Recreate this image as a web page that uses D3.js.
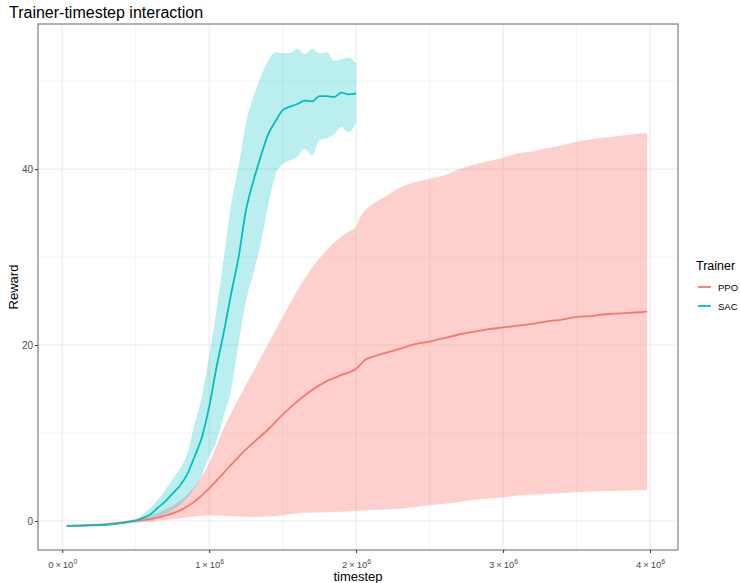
<!DOCTYPE html>
<html>
<head>
<meta charset="utf-8">
<script src="https://cdn.jsdelivr.net/npm/d3@7"></script>
<style>
  body { margin: 0; background: #fff; }
  text { font-family: "Liberation Sans", Arial, Helvetica, sans-serif; }
</style>
</head>
<body>
<svg id="chart" width="740" height="583"></svg>
<script>
// ---------------- DATA ----------------
const trainers = ["PPO", "SAC"];
const trainerColors = ["#F8766D", "#00BFC4"];

const ppoStep = [0.03,0.1,0.2,0.3,0.4,0.5,0.6,0.7,0.8,0.9,1.0,1.1,1.2,1.3,1.4,1.5,1.6,1.7,1.8,1.9,1.95,2.0,2.03,2.06,2.1,2.2,2.3,2.4,2.5,2.6,2.7,2.8,2.9,3.0,3.1,3.2,3.3,3.4,3.5,3.6,3.7,3.8,3.9,3.98].map(d => d * 1e6);
const ppoMean = [-0.55,-0.5,-0.45,-0.35,-0.2,0.0,0.2,0.6,1.2,2.2,3.7,5.5,7.3,8.9,10.4,12.1,13.6,14.9,15.9,16.6,16.9,17.3,17.8,18.3,18.6,19.1,19.6,20.1,20.4,20.8,21.2,21.5,21.8,22.0,22.2,22.4,22.7,22.9,23.2,23.3,23.5,23.6,23.7,23.8];
const ppoLow  = [-0.6,-0.55,-0.5,-0.45,-0.35,-0.2,-0.05,0.1,0.3,0.5,0.65,0.6,0.5,0.45,0.5,0.65,0.85,0.95,1.0,1.05,1.1,1.15,1.2,1.2,1.25,1.3,1.4,1.6,1.8,1.95,2.15,2.4,2.55,2.7,2.9,3.0,3.1,3.15,3.3,3.35,3.4,3.45,3.5,3.55];
const ppoHigh = [-0.5,-0.45,-0.4,-0.25,-0.05,0.25,0.6,1.3,2.3,3.9,6.6,10.6,13.9,17.0,20.1,23.2,26.2,28.8,30.8,32.3,32.9,33.5,34.6,35.3,35.9,36.9,37.9,38.5,38.9,39.3,40.0,40.5,40.9,41.3,41.8,42.0,42.4,42.7,43.1,43.4,43.6,43.8,44.0,44.1];

const sacStep = [0.03,0.1,0.2,0.3,0.35,0.4,0.45,0.5,0.55,0.6,0.65,0.7,0.75,0.8,0.85,0.9,0.95,1.0,1.05,1.1,1.15,1.2,1.25,1.3,1.35,1.4,1.45,1.5,1.55,1.6,1.65,1.7,1.75,1.8,1.85,1.9,1.95,2.0].map(d => d * 1e6);
const sacMean = [-0.55,-0.55,-0.5,-0.45,-0.35,-0.25,-0.1,0.05,0.35,0.75,1.5,2.2,3.1,4.0,5.3,7.3,9.5,13.0,17.5,21.5,25.9,30.0,35.3,38.6,41.4,43.9,45.4,46.7,47.1,47.4,47.8,47.7,48.3,48.3,48.2,48.7,48.5,48.6];
const sacLow  = [-0.6,-0.6,-0.55,-0.5,-0.4,-0.3,-0.15,-0.1,0.0,0.2,0.45,0.8,1.2,1.8,2.6,3.7,5.2,7.3,9.0,12.0,15.0,20.2,25.0,28.1,31.5,35.8,39.3,40.6,41.0,41.4,42.3,41.6,43.3,43.5,44.0,44.8,44.2,45.4];
const sacHigh = [-0.5,-0.5,-0.45,-0.4,-0.3,-0.15,0.0,0.15,0.75,1.5,2.4,3.5,4.7,5.9,7.6,11.0,14.1,18.8,24.0,30.0,36.0,40.3,45.2,48.2,50.5,52.3,53.3,53.2,53.2,53.7,53.1,53.7,53.2,53.3,52.3,52.5,52.7,52.0];

const xTickValues = [0, 1e6, 2e6, 3e6, 4e6];
const xTickMantissa = ["0", "1", "2", "3", "4"];
const xTickExponent = ["0", "6", "6", "6", "6"];
const xMinorValues = [0.5e6, 1.5e6, 2.5e6, 3.5e6];
const yTickValues = [0, 20, 40];
const yMinorValues = [10, 30, 50];

// ---------------- LAYOUT ----------------
const svg = d3.select("#chart");
const P = { left: 38, right: 678, top: 24, bottom: 550 };

const x = d3.scaleLinear().domain([-0.165e6, 4.19e6]).range([P.left, P.right]);
const y = d3.scaleLinear().domain([-3.3, 56.5]).range([P.bottom, P.top]);

const gridColor = "#EBEBEB";
svg.append("rect").attr("x", P.left).attr("y", P.top)
  .attr("width", P.right - P.left).attr("height", P.bottom - P.top).attr("fill", "#fff");

const grid = svg.append("g");
xMinorValues.forEach(v => grid.append("line").attr("x1", x(v)).attr("x2", x(v))
  .attr("y1", P.top).attr("y2", P.bottom).attr("stroke", gridColor).attr("stroke-width", 0.6));
yMinorValues.forEach(v => grid.append("line").attr("y1", y(v)).attr("y2", y(v))
  .attr("x1", P.left).attr("x2", P.right).attr("stroke", gridColor).attr("stroke-width", 0.6));
xTickValues.forEach(v => grid.append("line").attr("x1", x(v)).attr("x2", x(v))
  .attr("y1", P.top).attr("y2", P.bottom).attr("stroke", gridColor).attr("stroke-width", 1.1));
yTickValues.forEach(v => grid.append("line").attr("y1", y(v)).attr("y2", y(v))
  .attr("x1", P.left).attr("x2", P.right).attr("stroke", gridColor).attr("stroke-width", 1.1));

svg.append("clipPath").attr("id", "clip").append("rect")
  .attr("x", P.left).attr("y", P.top).attr("width", P.right - P.left).attr("height", P.bottom - P.top);

const series = [
  { name: "PPO", color: trainerColors[0], step: ppoStep, mean: ppoMean, low: ppoLow, high: ppoHigh, alpha: 0.34 },
  { name: "SAC", color: trainerColors[1], step: sacStep, mean: sacMean, low: sacLow, high: sacHigh, alpha: 0.27 }
];

const plot = svg.append("g").attr("clip-path", "url(#clip)");
series.forEach(s => {
  const pts = s.step.map((t, i) => ({ t, m: s.mean[i], lo: s.low[i], hi: s.high[i] }));
  const area = d3.area().curve(d3.curveMonotoneX).x(d => x(d.t)).y0(d => y(d.lo)).y1(d => y(d.hi));
  plot.append("path").datum(pts).attr("d", area)
    .attr("fill", s.color).attr("fill-opacity", s.alpha);
});
series.forEach(s => {
  const pts = s.step.map((t, i) => ({ t, m: s.mean[i] }));
  const line = d3.line().curve(d3.curveMonotoneX).x(d => x(d.t)).y(d => y(d.m));
  plot.append("path").datum(pts).attr("d", line)
    .attr("fill", "none").attr("stroke", s.color).attr("stroke-width", 1.8)
    .attr("stroke-linejoin", "round");
});

svg.append("rect").attr("x", P.left).attr("y", P.top)
  .attr("width", P.right - P.left).attr("height", P.bottom - P.top)
  .attr("fill", "none").attr("stroke", "#666").attr("stroke-width", 1);

// axes
const xAxis = d3.axisBottom(x).tickValues(xTickValues).tickSize(3).tickFormat("");
const gx = svg.append("g").attr("transform", `translate(0,${P.bottom})`).call(xAxis);
gx.select(".domain").remove();
gx.selectAll(".tick line").attr("stroke", "#333");
gx.selectAll(".tick").each(function(d, i) {
  const t = d3.select(this).append("text")
    .attr("y", 18).attr("text-anchor", "middle").attr("fill", "#4D4D4D").attr("font-size", 9.5);
  t.append("tspan").text(xTickMantissa[i] + "\u2009\u00D7\u200910");
  t.append("tspan").attr("dy", -4.5).attr("font-size", 7).text(xTickExponent[i]);
});

const yAxis = d3.axisLeft(y).tickValues(yTickValues).tickSize(3).tickPadding(2);
const gy = svg.append("g").attr("transform", `translate(${P.left},0)`).call(yAxis);
gy.select(".domain").remove();
gy.selectAll(".tick line").attr("stroke", "#333");
gy.selectAll(".tick text").attr("fill", "#4D4D4D").attr("font-size", 10)
  .attr("font-family", "Liberation Sans, Arial, sans-serif");

// titles
svg.append("text").attr("x", 9).attr("y", 18).attr("font-size", 16).attr("fill", "#000")
  .text("Trainer-timestep interaction");
svg.append("text").attr("x", (P.left + P.right) / 2).attr("y", 581).attr("text-anchor", "middle")
  .attr("font-size", 13).attr("fill", "#000").text("timestep");
svg.append("text").attr("transform", `translate(18,${(P.top + P.bottom) / 2}) rotate(-90)`)
  .attr("text-anchor", "middle").attr("font-size", 13).attr("fill", "#000").text("Reward");

// legend
const lg = svg.append("g").attr("transform", "translate(695,0)");
lg.append("text").attr("x", 1).attr("y", 270).attr("font-size", 12.5).attr("fill", "#000").text("Trainer");
trainers.forEach((n, i) => {
  const cy = 287 + i * 19;
  lg.append("line").attr("x1", 3).attr("x2", 16).attr("y1", cy).attr("y2", cy)
    .attr("stroke", trainerColors[i]).attr("stroke-width", 1.8);
  lg.append("text").attr("x", 23).attr("y", cy + 3.5).attr("font-size", 9.5).attr("fill", "#000").text(n);
});
</script>
</body>
</html>
